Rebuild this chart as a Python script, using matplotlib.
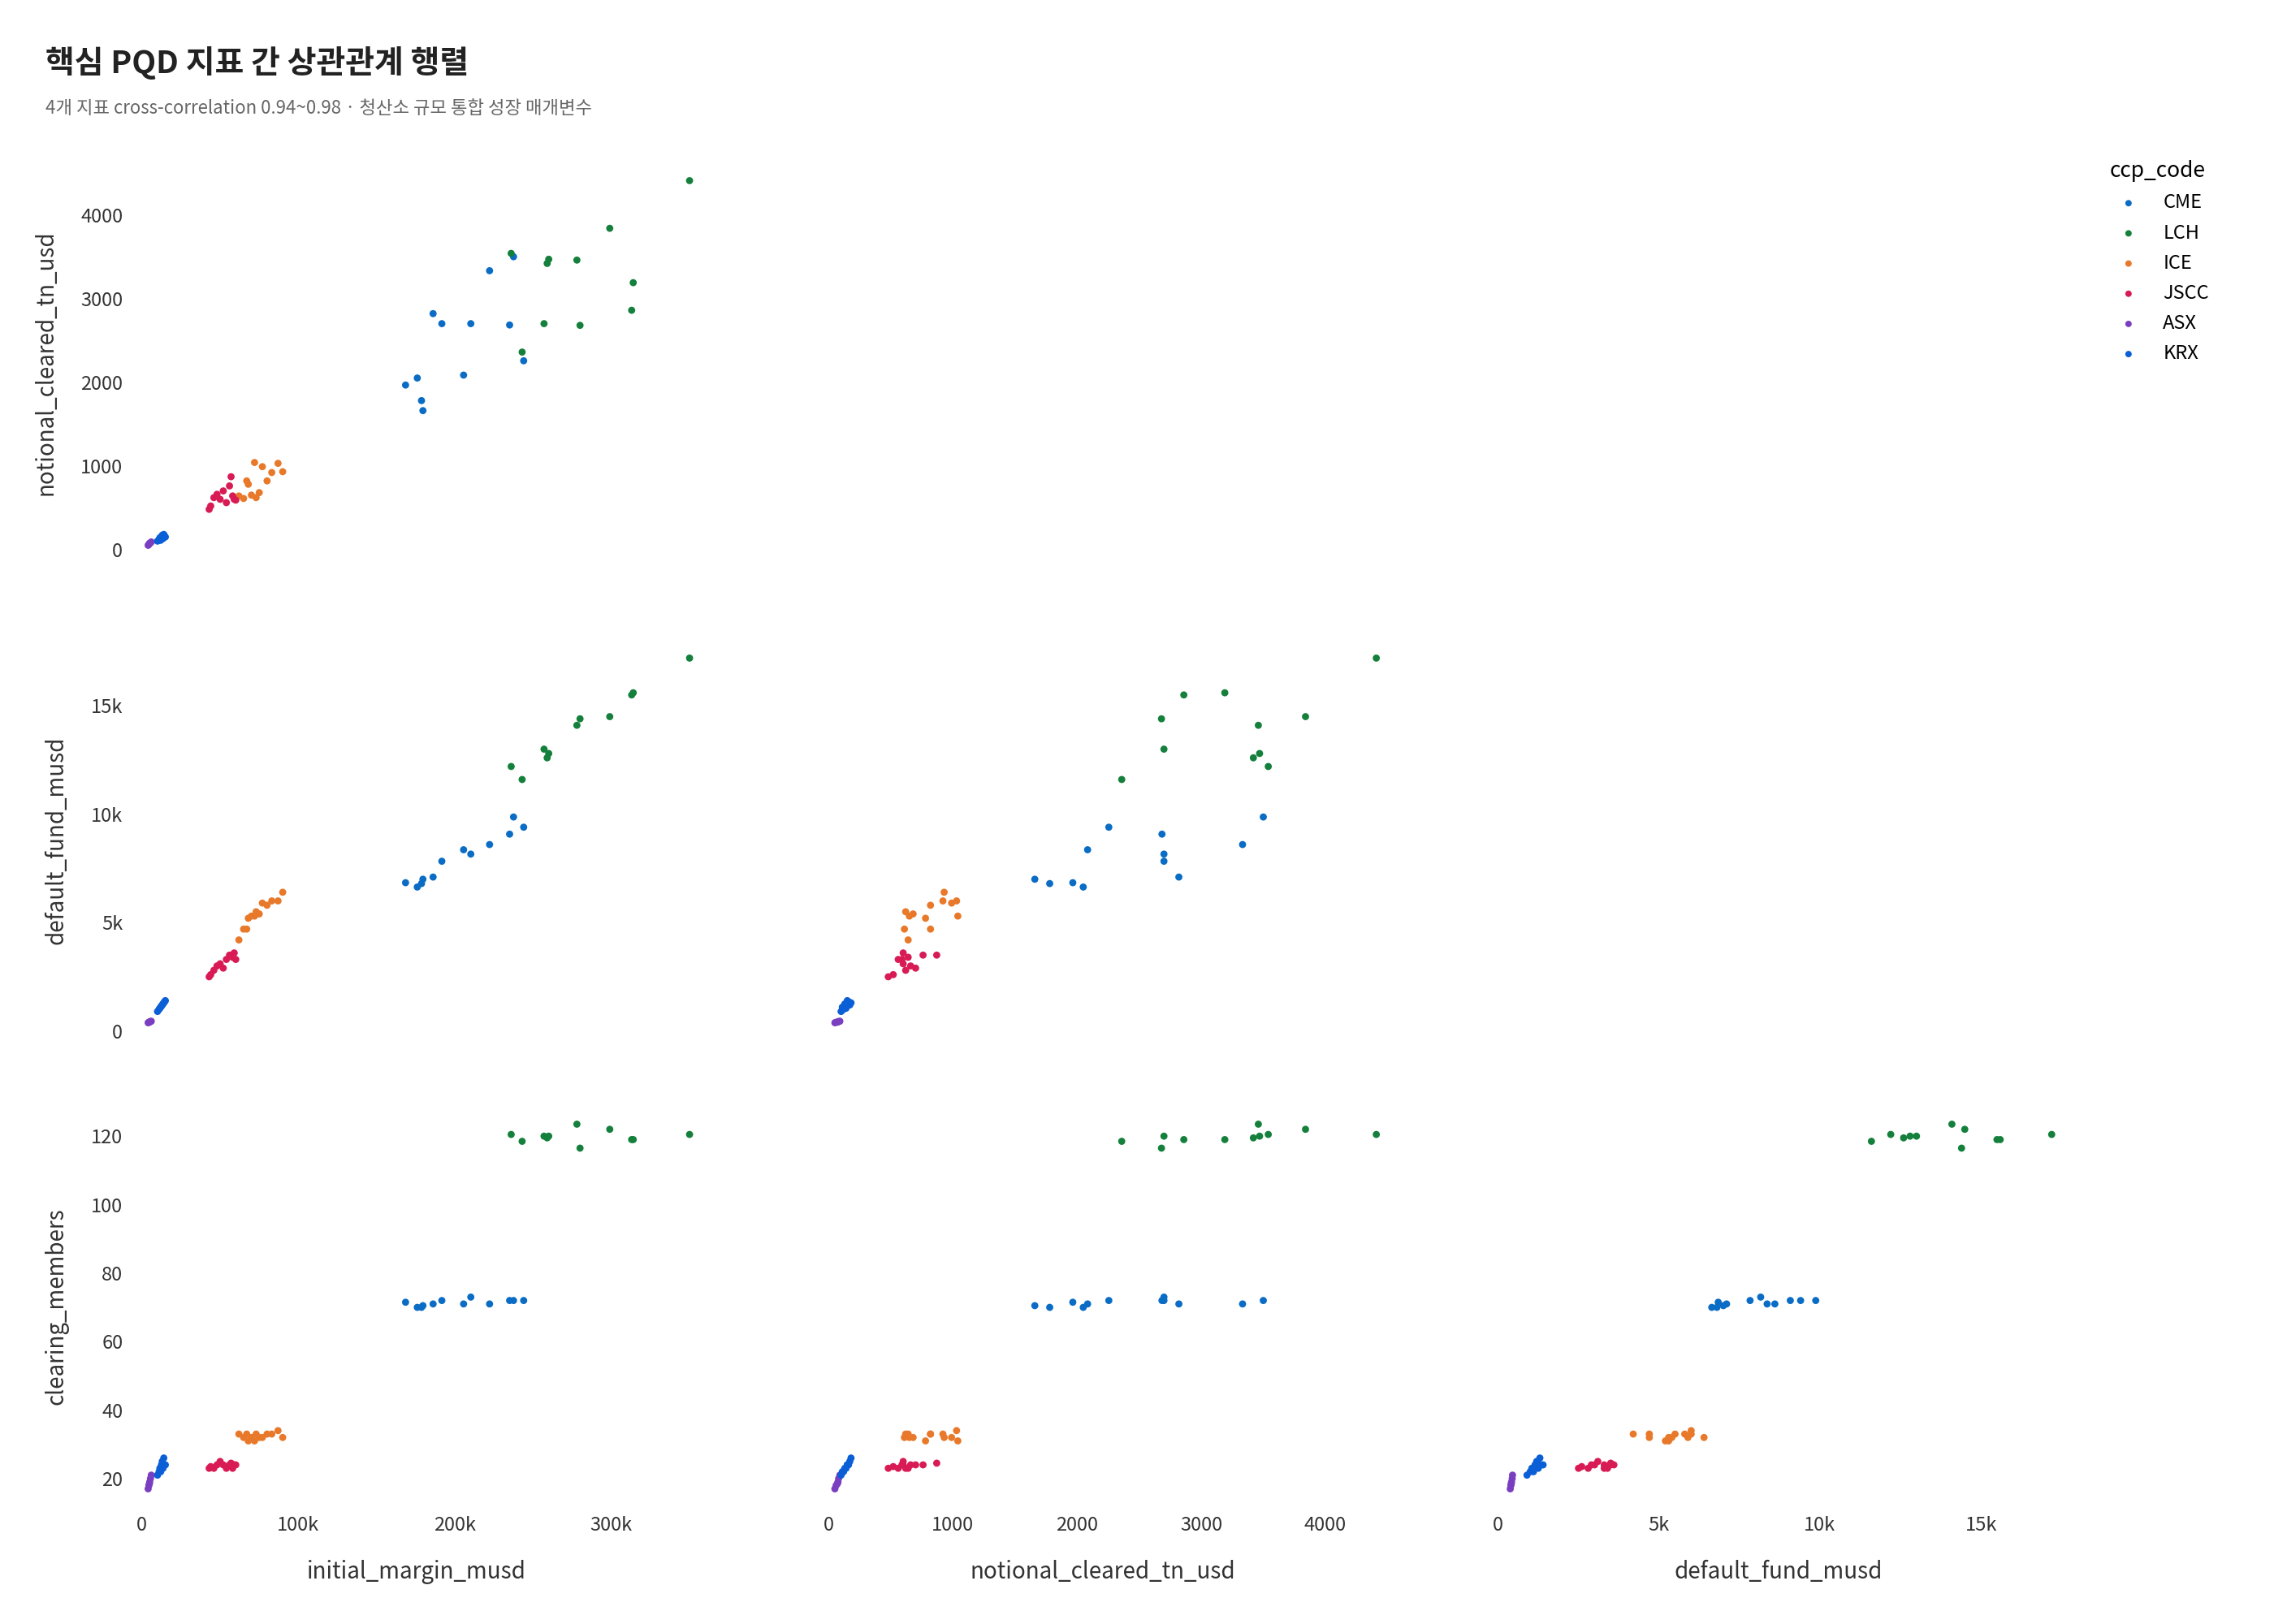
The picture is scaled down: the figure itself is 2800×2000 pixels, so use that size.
import matplotlib
matplotlib.use("Agg")
import matplotlib.pyplot as plt
from matplotlib.ticker import FuncFormatter

plt.rcParams['font.family'] = ['Noto Sans CJK KR', 'DejaVu Sans']

ccps = ["CME", "LCH", "ICE", "JSCC", "ASX", "KRX"]
colors = {"CME": "#0a6cc4", "LCH": "#14803c", "ICE": "#e8792b", "JSCC": "#d81b55", "ASX": "#7a3fc0", "KRX": "#0a5fd6"}

im = {
    "CME": [168.5, 176, 178.7, 179.6, 186.1, 191.7, 205.6, 210.2, 222.2, 235, 237.5, 244],
    "LCH": [350, 314, 313, 299, 280, 278, 260, 259, 257, 236, 243],
    "ICE": [62, 65, 67, 68, 70, 72, 73, 75, 77, 80, 83, 87, 90],
    "JSCC": [43, 44, 46, 48, 50, 52, 54, 56, 57, 58, 59, 60],
    "ASX": [4, 4.5, 5, 5.5, 6, 4.8],
    "KRX": [10, 11, 11.5, 12, 12.5, 13, 13.5, 14, 14.5, 15],
}
notional = {
    "CME": [1966, 2050, 1780, 1660, 2820, 2700, 2085, 2700, 3333, 2684, 3500, 2256],
    "LCH": [4410, 3190, 2860, 3840, 2680, 3460, 3470, 3420, 2700, 3540, 2360],
    "ICE": [640, 610, 820, 780, 650, 1040, 620, 680, 990, 820, 920, 1030, 930],
    "JSCC": [480, 520, 620, 660, 600, 700, 560, 760, 870, 640, 600, 590],
    "ASX": [50, 60, 75, 80, 90, 70],
    "KRX": [100, 120, 140, 110, 150, 170, 130, 180, 160, 150],
}
default_fund = {
    "CME": [6.84, 6.64, 6.8, 7.0, 7.1, 7.83, 8.36, 8.16, 8.6, 9.08, 9.87, 9.4],
    "LCH": [17.2, 15.6, 15.5, 14.5, 14.4, 14.1, 12.8, 12.6, 13.0, 12.2, 11.6],
    "ICE": [4.2, 4.7, 4.7, 5.2, 5.3, 5.3, 5.5, 5.4, 5.9, 5.8, 6.0, 6.0, 6.4],
    "JSCC": [2.5, 2.6, 2.8, 3.0, 3.1, 2.9, 3.3, 3.5, 3.5, 3.4, 3.6, 3.3],
    "ASX": [0.38, 0.4, 0.42, 0.44, 0.45, 0.41],
    "KRX": [0.9, 1.0, 1.05, 1.1, 1.15, 1.2, 1.25, 1.3, 1.35, 1.4],
}
members = {
    "CME": [71.5, 70, 70, 70.5, 71, 72, 71, 73, 71, 72, 72, 72],
    "LCH": [120.5, 119, 119, 122, 116.5, 123.5, 120, 119.5, 120, 120.5, 118.5],
    "ICE": [33, 32, 33, 31, 32, 31, 33, 32, 32, 33, 33, 34, 32],
    "JSCC": [23, 23.5, 23, 24, 25, 24, 23, 24, 24.5, 23, 24, 24],
    "ASX": [17, 18, 19, 20, 21, 18.5],
    "KRX": [21, 22, 23, 22, 24, 25, 23, 26, 24, 24],
}

vars_ = {
    "initial_margin_musd": {k: [v * 1000 for v in im[k]] for k in ccps},
    "notional_cleared_tn_usd": notional,
    "default_fund_musd": {k: [v * 1000 for v in default_fund[k]] for k in ccps},
    "clearing_members": members,
}
xvars = ["initial_margin_musd", "notional_cleared_tn_usd", "default_fund_musd"]
yvars = ["notional_cleared_tn_usd", "default_fund_musd", "clearing_members"]

fig = plt.figure(figsize=(28, 20), dpi=100)
lefts = [0.058, 0.36, 0.657]
w = 0.25
bottoms = [0.653, 0.359, 0.072]
h = 0.247

kfmt = FuncFormatter(lambda v, p: "0" if v == 0 else f"{int(v/1000)}k")
gray = "#333333"
axes = {}
for r, yv in enumerate(yvars):
    for c, xv in enumerate(xvars):
        if c > r:
            continue
        ax = fig.add_axes([lefts[c], bottoms[r], w, h])
        for k in ccps:
            ax.scatter(vars_[xv][k], vars_[yv][k], s=40, color=colors[k], label=k, edgecolors='none')
        for s in ax.spines.values():
            s.set_visible(False)
        ax.tick_params(length=0, labelsize=17, colors=gray, pad=8)
        if xv in ("initial_margin_musd", "default_fund_musd"):
            ax.xaxis.set_major_formatter(kfmt)
        if yv == "default_fund_musd":
            ax.yaxis.set_major_formatter(kfmt)
        if c == 0:
            ax.set_ylabel(yv, fontsize=20, color=gray, labelpad=20)
        else:
            ax.set_yticklabels([])
        if r == 2:
            ax.set_xlabel(xv, fontsize=20, color=gray, labelpad=22)
        else:
            ax.set_xticklabels([])
        axes[(r, c)] = ax

for c in range(3):
    xs = [v for k in ccps for v in vars_[xvars[c]][k]]
    pad = (max(xs) - min(xs)) * 0.02
    for r in range(3):
        if (r, c) in axes:
            axes[(r, c)].set_xlim(min(xs) - pad * 1.5, max(xs) + pad)
for r in range(3):
    ys = [v for k in ccps for v in vars_[yvars[r]][k]]
    pad = (max(ys) - min(ys)) * 0.05
    for c in range(3):
        if (r, c) in axes:
            axes[(r, c)].set_ylim(min(ys) - pad, max(ys) + pad)
axes[(2, 0)].set_xticks([0, 100000, 200000, 300000])
axes[(2, 1)].set_xticks([0, 1000, 2000, 3000, 4000])
axes[(2, 2)].set_xticks([0, 5000, 10000, 15000])
axes[(0, 0)].set_yticks([0, 1000, 2000, 3000, 4000])
axes[(1, 0)].set_yticks([0, 5000, 10000, 15000])
axes[(2, 0)].set_yticks([20, 40, 60, 80, 100, 120])

handles, labels = axes[(0, 0)].get_legend_handles_labels()
leg = fig.legend(handles, labels, title="ccp_code", loc="upper left", bbox_to_anchor=(0.92, 0.912),
                 frameon=False, fontsize=17, title_fontsize=19, markerscale=0.9, handletextpad=0.8, labelspacing=0.6)
leg._legend_box.align = "left"

fig.text(0.02, 0.955, "핵심 PQD 지표 간 상관관계 행렬", fontsize=28, fontweight='bold', color="#222222")
fig.text(0.02, 0.93, "4개 지표 cross-correlation 0.94~0.98 · 청산소 규모 통합 성장 매개변수", fontsize=16, color="#666666")

fig.savefig("out.png", dpi=100, facecolor="white")
